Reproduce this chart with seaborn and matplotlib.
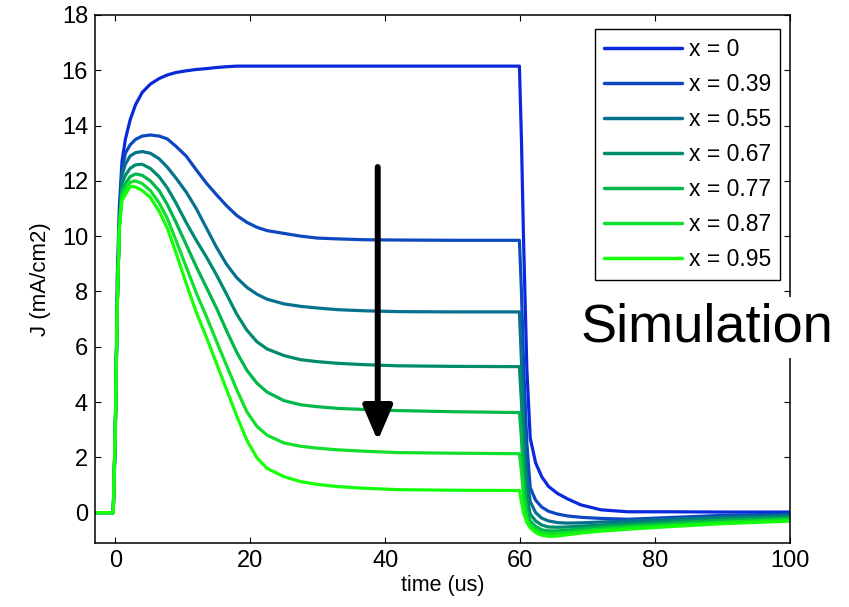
import numpy as np
import pandas as pd
import matplotlib
matplotlib.use("Agg")
import matplotlib.pyplot as plt
import seaborn as sns

# ---------------- data ----------------
time_us = [-3.0, -0.3, 0.0, 0.3, 0.6, 1.0, 1.5, 2.2, 3.0, 4.0, 5.2, 6.5, 7.7, 9.0,
           10.5, 12.0, 13.5, 15.0, 16.5, 18.0, 19.5, 21.0, 22.5, 25.0, 27.5, 30.0,
           33.0, 37.0, 42.0, 50.0, 59.9, 60.2, 60.5, 61.0, 61.5, 62.3, 63.2, 64.2,
           65.5, 67.0, 69.0, 72.0, 76.0, 82.0, 90.0, 100.0]

J_x000 = [0, 0, 2.5, 8.5, 11.0, 12.7, 13.5, 14.2, 14.75, 15.2, 15.5, 15.7, 15.83, 15.92,
          15.98, 16.03, 16.06, 16.1, 16.13, 16.15, 16.15, 16.15, 16.15, 16.15, 16.15, 16.15,
          16.15, 16.15, 16.15, 16.15, 16.15, 13.5, 10.0, 5.2, 2.7, 1.8, 1.3, 0.95,
          0.7, 0.5, 0.28, 0.1, 0.03, 0.03, 0.02, 0.02]
J_x039 = [0, 0, 2.9, 7.5, 10.3, 12.4, 13.0, 13.3, 13.5, 13.62, 13.66, 13.62, 13.52, 13.25,
          12.9, 12.4, 11.92, 11.5, 11.1, 10.75, 10.5, 10.32, 10.2, 10.1, 10.0, 9.93,
          9.9, 9.87, 9.86, 9.85, 9.85, 8.0, 5.5, 2.5, 0.9, 0.45, 0.2, 0.05,
          -0.05, -0.12, -0.17, -0.21, -0.24, -0.18, -0.1, -0.05]
J_x055 = [0, 0, 2.9, 7.5, 10.3, 12.2, 12.6, 12.9, 13.02, 13.06, 13.0, 12.8, 12.5, 12.1,
          11.6, 11.0, 10.3, 9.6, 8.98, 8.5, 8.15, 7.9, 7.72, 7.55, 7.46, 7.4,
          7.34, 7.3, 7.27, 7.26, 7.26, 5.5, 3.5, 1.3, 0.4, 0.0, -0.2, -0.3,
          -0.36, -0.38, -0.37, -0.34, -0.3, -0.24, -0.16, -0.1]
J_x067 = [0, 0, 2.9, 7.5, 10.3, 11.9, 12.2, 12.45, 12.58, 12.6, 12.45, 12.15, 11.75, 11.2,
          10.5, 9.85, 9.25, 8.6, 7.9, 7.18, 6.6, 6.18, 5.92, 5.68, 5.53, 5.46,
          5.4, 5.35, 5.31, 5.29, 5.28, 4.0, 2.2, 0.6, -0.05, -0.3, -0.45, -0.52,
          -0.53, -0.52, -0.49, -0.45, -0.39, -0.31, -0.22, -0.15]
J_x077 = [0, 0, 2.9, 7.5, 10.3, 11.7, 11.9, 12.15, 12.25, 12.2, 12.0, 11.65, 11.15, 10.5,
          9.7, 8.9, 8.15, 7.4, 6.58, 5.8, 5.15, 4.68, 4.36, 4.05, 3.9, 3.83,
          3.77, 3.73, 3.69, 3.65, 3.62, 2.7, 1.3, 0.1, -0.3, -0.5, -0.62, -0.66,
          -0.66, -0.63, -0.58, -0.52, -0.46, -0.38, -0.28, -0.2]
J_x087 = [0, 0, 2.9, 7.5, 10.3, 11.5, 11.7, 11.95, 12.0, 11.9, 11.65, 11.2, 10.65, 9.85,
          8.9, 7.95, 7.1, 6.2, 5.32, 4.45, 3.65, 3.12, 2.8, 2.52, 2.4, 2.33,
          2.27, 2.22, 2.17, 2.15, 2.13, 1.5, 0.6, -0.2, -0.45, -0.62, -0.73, -0.76,
          -0.75, -0.72, -0.67, -0.6, -0.53, -0.45, -0.35, -0.25]
J_x095 = [0, 0, 2.9, 7.5, 10.3, 11.3, 11.5, 11.8, 11.78, 11.65, 11.4, 10.9, 10.3, 9.4,
          8.3, 7.25, 6.35, 5.4, 4.45, 3.5, 2.62, 1.98, 1.6, 1.3, 1.12, 1.02,
          0.94, 0.88, 0.83, 0.81, 0.8, 0.4, 0.0, -0.35, -0.55, -0.72, -0.82, -0.86,
          -0.85, -0.8, -0.74, -0.67, -0.6, -0.51, -0.4, -0.31]

series_labels = ["x = 0", "x = 0.39", "x = 0.55", "x = 0.67", "x = 0.77", "x = 0.87", "x = 0.95"]
series_values = [J_x000, J_x039, J_x055, J_x067, J_x077, J_x087, J_x095]
series_colors = ["#0a28dc", "#0c48c0", "#06708f", "#008a6e", "#00b84a", "#10e02c", "#14ff08"]

x_ticks = [0, 20, 40, 60, 80, 100]
y_ticks = [0, 2, 4, 6, 8, 10, 12, 14, 16, 18]

# ---------------- build long table ----------------
frames = []
for lab, vals in zip(series_labels, series_values):
    frames.append(pd.DataFrame({"time": time_us, "J": vals, "series": lab}))
df = pd.concat(frames, ignore_index=True)

sns.set_style("ticks")
plt.rcParams["font.family"] = ["Liberation Sans", "DejaVu Sans"]
plt.rcParams["text.color"] = "black"
plt.rcParams["axes.labelcolor"] = "black"

fig = plt.figure(figsize=(8.49, 6.07), dpi=100)
ax = fig.add_axes([0.1119, 0.1054, 0.8186, 0.8699])

sns.lineplot(data=df, x="time", y="J", hue="series", hue_order=series_labels,
             palette=dict(zip(series_labels, series_colors)), estimator=None,
             sort=False, linewidth=2.3, ax=ax, legend=True)

ax.set_xlim(-3, 100)
ax.set_ylim(-1.1, 18)
ax.set_xticks(x_ticks)
ax.set_yticks(y_ticks)
ax.tick_params(direction="in", top=True, right=True, length=4, width=0.8,
               labelsize=17, colors="black", pad=5)
for s in ax.spines.values():
    s.set_visible(True)
    s.set_color("black")
    s.set_linewidth(1.1)

ax.set_xlabel("time (us)", fontsize=15.5, labelpad=2, color="black")
ax.set_ylabel("J (mA/cm2)", fontsize=16, labelpad=8, color="black")

handles, labels = ax.get_legend_handles_labels()
leg = ax.legend(handles, labels, loc="upper right", bbox_to_anchor=(0.9856, 0.9735),
                borderaxespad=0, fontsize=16.5, frameon=True, fancybox=False,
                edgecolor="black", framealpha=1, handlelength=3.4,
                handletextpad=0.3, labelspacing=0.52, borderpad=0.4)
leg.get_frame().set_linewidth(1.0)
for line in leg.get_lines():
    line.set_linewidth(2.5)
for t in leg.get_texts():
    t.set_color("black")

ax.annotate("", xy=(38.9, 2.6), xytext=(38.9, 12.5),
            arrowprops=dict(arrowstyle="-|>,head_length=0.7,head_width=0.3",
                            lw=4.3, color="black", mutation_scale=30,
                            shrinkA=0, shrinkB=0))

fig.text(0.833, 0.461, "Simulation", fontsize=39, ha="center", va="center",
         color="black", zorder=10,
         bbox=dict(facecolor="white", edgecolor="none", pad=4))

fig.savefig("out.png", dpi=100)
